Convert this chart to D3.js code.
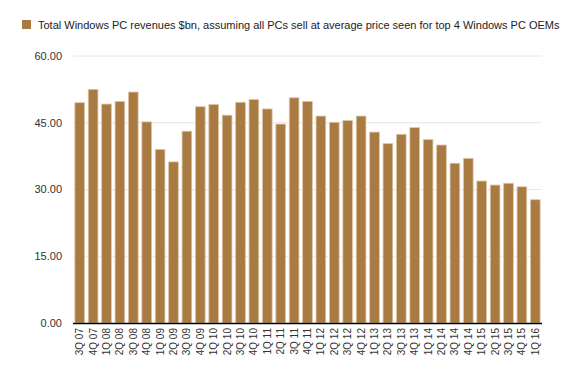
<!DOCTYPE html>
<html>
<head>
<meta charset="utf-8">
<script src="https://cdn.jsdelivr.net/npm/d3@7"></script>
<style>
  body { margin: 0; background: #fff; }
  text { font-family: "Liberation Sans", Arial, sans-serif; }
</style>
</head>
<body>
<script>
const quarters = [
    '3Q 07', '4Q 07',
    '1Q 08', '2Q 08', '3Q 08', '4Q 08',
    '1Q 09', '2Q 09', '3Q 09', '4Q 09',
    '1Q 10', '2Q 10', '3Q 10', '4Q 10',
    '1Q 11', '2Q 11', '3Q 11', '4Q 11',
    '1Q 12', '2Q 12', '3Q 12', '4Q 12',
    '1Q 13', '2Q 13', '3Q 13', '4Q 13',
    '1Q 14', '2Q 14', '3Q 14', '4Q 14',
    '1Q 15', '2Q 15', '3Q 15', '4Q 15',
    '1Q 16'
];

const revenues = [
    49.5, 52.5,
    49.2, 49.8, 51.9, 45.2,
    39.0, 36.2, 43.1, 48.6,
    49.1, 46.7, 49.6, 50.2,
    48.1, 44.7, 50.6, 49.8,
    46.5, 45.1, 45.5, 46.5,
    42.9, 40.3, 42.4, 43.9,
    41.2, 40.0, 35.9, 37.0,
    31.9, 31.0, 31.4, 30.6,
    27.7
];

const yTicks = [0, 15, 30, 45, 60];

const seriesName = 'Total Windows PC revenues $bn, assuming all PCs sell at average price seen for top 4 Windows PC OEMs';

const width = 584,
    height = 376;

const margin = { top: 56, right: 42, bottom: 53, left: 73 };

const barColor = '#a97a41';

const svg = d3.select('body')
    .append('svg')
    .attr('width', width)
    .attr('height', height);

const x = d3.scaleBand()
    .domain(quarters)
    .range([margin.left, width - margin.right])
    .paddingInner(0.28)
    .paddingOuter(0.14);

const y = d3.scaleLinear()
    .domain([0, 60])
    .range([height - margin.bottom, margin.top]);

// gridlines
svg.append('g')
    .selectAll('line')
    .data(yTicks.slice(1))
    .enter()
    .append('line')
    .attr('x1', margin.left)
    .attr('x2', width - margin.right)
    .attr('y1', d => y(d))
    .attr('y2', d => y(d))
    .attr('stroke', '#e6e6e6')
    .attr('stroke-width', 1);

// y labels
svg.append('g')
    .selectAll('text')
    .data(yTicks)
    .enter()
    .append('text')
    .attr('x', 62)
    .attr('y', d => y(d))
    .attr('dy', '0.35em')
    .attr('text-anchor', 'end')
    .attr('font-size', 11)
    .attr('fill', '#333')
    .text(d => d.toFixed(2));

// bars
svg.append('g')
    .selectAll('rect')
    .data(revenues)
    .enter()
    .append('rect')
    .attr('x', (d, i) => x(quarters[i]))
    .attr('y', d => y(d))
    .attr('width', x.bandwidth())
    .attr('height', d => y(0) - y(d))
    .attr('fill', barColor)
    .attr('stroke', '#dcc5a6')
    .attr('stroke-width', 0.8);

// x axis line
svg.append('line')
    .attr('x1', margin.left)
    .attr('x2', width - margin.right)
    .attr('y1', y(0) + 0.5)
    .attr('y2', y(0) + 0.5)
    .attr('stroke', '#000')
    .attr('stroke-width', 1.5);

// x labels, rotated
svg.append('g')
    .selectAll('text')
    .data(quarters)
    .enter()
    .append('text')
    .attr('transform', d => 'translate(' + (x(d) + x.bandwidth() / 2) + ',' + (y(0) + 5) + ') rotate(-90)')
    .attr('dy', '0.35em')
    .attr('text-anchor', 'end')
    .attr('font-size', 10)
    .attr('fill', '#333')
    .text(d => d);

// legend
const legend = svg.append('g');

legend.append('rect')
    .attr('x', 22)
    .attr('y', 20)
    .attr('width', 9)
    .attr('height', 9)
    .attr('fill', barColor);

legend.append('text')
    .attr('x', 38)
    .attr('y', 28.5)
    .attr('font-size', 11)
    .attr('fill', '#222')
    .text(seriesName);
</script>
</body>
</html>
